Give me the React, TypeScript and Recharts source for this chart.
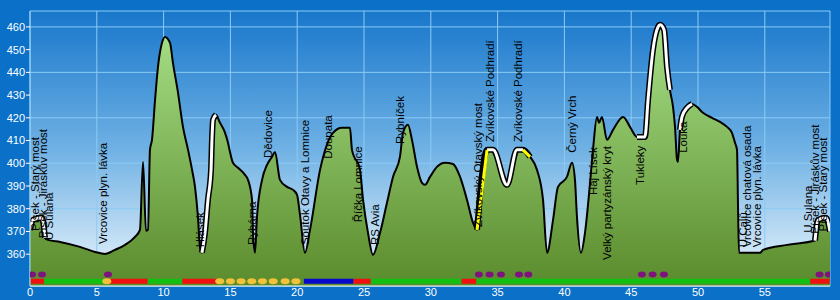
import {
  ComposedChart,
  Area,
  Line,
  Scatter,
  XAxis,
  YAxis,
  CartesianGrid,
} from "recharts";

// profile: distance (km) / elevation (m)
const km = [
  0, 0.22, 0.9, 1.12, 1.35, 2.25, 3.74, 4.87, 5.61, 6.36,
  7.11, 7.86, 8.23, 8.46, 8.68, 8.83, 8.98, 9.13, 9.36, 9.58,
  9.88, 10.1, 10.48, 10.7, 11.08, 11.45, 11.83, 12.13, 12.35, 12.57,
  12.72, 12.87, 13.1, 13.32, 13.55, 13.62, 13.7, 13.92, 14.22, 14.6,
  14.82, 14.97, 15.19, 15.57, 16.09, 16.32, 16.62, 16.69, 16.84, 16.99,
  17.37, 17.74, 18.11, 18.34, 18.71, 19.24, 19.69, 19.99, 20.21, 20.58,
  20.96, 21.71, 22.68, 23.35, 23.95, 24.1, 24.7, 24.93, 25.3, 25.67,
  26.2, 26.72, 27.17, 27.69, 27.92, 28.29, 28.59, 28.97, 29.34, 29.57,
  29.94, 30.46, 31.06, 31.66, 32.19, 32.71, 33.16, 33.46, 34.21, 34.66,
  35.7, 36.45, 36.9, 37.43, 37.95, 38.4, 38.7, 39.15, 39.52, 40.19,
  40.57, 40.79, 40.94, 41.24, 41.54, 41.92, 42.14, 42.44, 42.59, 42.81,
  43.19, 43.64, 44.39, 44.91, 45.43, 46.03, 46.26, 46.63, 47.01, 47.16,
  47.46, 47.68, 47.9, 48.13, 48.28, 48.43, 48.5, 48.65, 48.8, 49.18,
  49.55, 49.93, 50.37, 51.05, 51.65, 52.17, 52.54, 52.77, 52.92, 53.0,
  53.07, 54.64, 54.87, 56.66, 58.76, 58.98, 59.58, 59.88,
];
const elev = [
  370.7, 375.1, 376.0, 367.2, 366.3, 365.4, 363.2, 361.0, 360.1, 361.9,
  364.1, 367.6, 370.7, 400.6, 370.3, 370.7, 405.9, 410.3, 427.9, 442.4,
  453.0, 455.6, 453.0, 444.2, 431.0, 416.0, 405.9, 397.1, 389.6, 376.4,
  363.2, 360.6, 369.4, 383.9, 397.1, 410.3, 419.1, 421.3, 417.8, 413.4,
  409.0, 405.0, 400.2, 398.0, 394.9, 392.7, 383.9, 369.4, 360.6, 376.4,
  392.7, 399.3, 402.8, 405.0, 392.7, 389.6, 388.3, 386.1, 377.3, 360.6,
  370.7, 397.1, 413.4, 415.6, 415.6, 405.9, 397.1, 383.9, 369.4, 359.7,
  369.4, 382.6, 394.0, 402.8, 413.4, 416.9, 410.3, 398.4, 391.4, 390.5,
  394.0, 398.4, 400.2, 399.7, 394.0, 383.9, 373.8, 370.7, 405.9, 405.9,
  390.5, 405.9, 405.9, 402.8, 397.1, 383.9, 360.6, 375.1, 389.6, 394.0,
  400.2, 392.7, 376.4, 360.6, 369.4, 391.4, 405.9, 420.4, 417.8, 420.4,
  410.3, 414.7, 420.4, 416.0, 411.6, 411.6, 427.9, 449.9, 460.0, 460.9,
  458.7, 442.4, 432.3, 424.8, 416.0, 401.5, 400.6, 414.7, 420.4, 424.4,
  426.1, 424.8, 422.2, 420.0, 418.2, 416.0, 413.4, 409.0, 405.9, 379.5,
  360.6, 360.6, 361.9, 364.1, 366.0, 375.1, 376.0, 370.0,
];

// highlighted stretches of the route (km from-to)
const whiteParts = [[0, 1.12], [12.87, 13.92], [34.21, 36.9], [45.43, 47.9], [48.65, 49.55], [58.76, 59.88]];
const yellowParts = [[33.46, 34.21], [36.9, 37.43]];

// surface strip along the bottom
const redStrip = [[0.05, 1.05], [5.9, 8.8], [11.4, 14.0], [24.2, 25.5], [32.3, 33.4], [58.4, 59.85]];
const greenStrip = [[1.05, 5.6], [8.8, 11.4], [25.5, 32.3], [33.4, 58.4]];
const blueStrip = [[20.5, 24.2]];
const yellowDots = [5.75, 14.2, 15.0, 15.8, 16.6, 17.4, 18.2, 19.1, 19.9];
const purpleDots = [0.15, 0.9, 5.84, 33.6, 34.4, 35.25, 36.6, 37.3, 45.8, 46.6, 47.45, 59.1, 59.8];

// waypoints
const placeNames = [
  "Písek - Starý most", "Písek - Jiráskův most", "U Sulana", "Vrcovice plyn. lávka",
  "Hlásek", "Rybárna", "Dědovice", "Soutok Otavy a Lomnice", "Doupata", "Říčka Lomnice",
  "RS Avia", "Rybníček", "Zvíkovský Otavský most", "Zvíkovské Podhradí", "Zvíkovské Podhradí",
  "Černý Vrch", "Háj Lísek", "Velký partyzánský kryt", "Tukleky", "Louka",
  "U Calů", "Vrcovice chatová osada", "Vrcovice plyn. lávka", "U Sulana",
  "Písek - Jiráskův most", "Písek - Starý most",
];
const placeKm = [
  0.37, 1.0, 1.45, 5.5, 12.7, 16.6, 17.8, 20.6, 22.3, 24.55,
  25.8, 27.7, 33.5, 34.45, 36.5, 40.55, 42.15, 43.2, 45.65, 48.9,
  53.4, 53.65, 54.4, 58.2, 58.75, 59.35,
];
const placeElev = [
  370.2, 367, 366.3, 364.5, 363, 364, 402.3, 364, 402, 374,
  364, 408.5, 372, 409.4, 409.4, 404.6, 386, 357.5, 390.5, 404.6,
  363, 363, 363, 369.4, 369, 370,
];

const xTicks = [0, 5, 10, 15, 20, 25, 30, 35, 40, 45, 50, 55];
const yTicks = [360, 370, 380, 390, 400, 410, 420, 430, 440, 450, 460];

const inParts = (k: number, parts: number[][]) => parts.some(([a, b]) => k >= a && k <= b);

const data = km.map((k, i) => ({
  km: k,
  elev: elev[i],
  hi: inParts(k, whiteParts) || inParts(k, yellowParts) ? elev[i] : null,
  white: inParts(k, whiteParts) ? elev[i] : null,
  yellow: inParts(k, yellowParts) ? elev[i] : null,
}));

const STRIP = 348.1;
const DOTS = 351.1;
const stripData = (parts: number[][]) =>
  parts.flatMap(([a, b]) => [
    { km: a, v: STRIP },
    { km: b, v: STRIP },
    { km: b, v: null },
  ]);

const places = placeNames.map((n, i) => ({ km: placeKm[i], y: placeElev[i], name: n }));
const font = "'Liberation Sans', Arial, sans-serif";

const PlaceLabel = (p: any) => (
  <text
    x={p.cx}
    y={p.cy}
    dy="0.35em"
    transform={`rotate(-90 ${p.cx} ${p.cy})`}
    fontSize={11.5}
    fontFamily={font}
    fill="#000"
  >
    {p.payload.name}
  </text>
);

const Dot = (color: string, rx: number, ry: number) => (p: any) => (
  <ellipse cx={p.cx} cy={p.cy} rx={rx} ry={ry} fill={color} />
);

export default function App() {
  return (
    <div style={{ width: 840, height: 300, background: "#0a70c8" }}>
      <style>{`body{margin:0}`}</style>
      <ComposedChart
        width={840}
        height={300}
        data={data}
        margin={{ top: 11, right: 10, bottom: 0, left: 0 }}
      >
        <defs>
          <linearGradient id="sky" x1="0" y1="0" x2="0" y2="1">
            <stop offset="0%" stopColor="#1877cb" />
            <stop offset="50%" stopColor="#6fb1e4" />
            <stop offset="100%" stopColor="#eef7fd" />
          </linearGradient>
          <linearGradient id="grass" x1="0" y1="0" x2="0" y2="1">
            <stop offset="0%" stopColor="#a8e088" />
            <stop offset="100%" stopColor="#5a8b2c" />
          </linearGradient>
        </defs>
        <CartesianGrid stroke="#8ccbf5" fill="url(#sky)" fillOpacity={1} />
        <XAxis
          dataKey="km"
          type="number"
          domain={[0, 59.88]}
          ticks={xTicks}
          height={14}
          tickLine={false}
          tickSize={2}
          tickMargin={0}
          axisLine={{ stroke: "#ffffff" }}
          tick={{ fill: "#ffffff", fontSize: 11, fontFamily: font }}
          allowDataOverflow
        />
        <YAxis
          type="number"
          domain={[346, 467]}
          ticks={yTicks}
          width={30}
          tickSize={4}
          tickMargin={1}
          tickLine={{ stroke: "#ffffff" }}
          axisLine={{ stroke: "#9fd3f7" }}
          tick={{ fill: "#ffffff", fontSize: 11, fontFamily: font }}
          allowDataOverflow
        />
        <Area
          dataKey="elev"
          type="monotone"
          fill="url(#grass)"
          fillOpacity={1}
          stroke="none"
          baseValue="dataMin"
          isAnimationActive={false}
        />
        <Line dataKey="elev" type="monotone" stroke="#000" strokeWidth={2} dot={false} activeDot={false} isAnimationActive={false} />
        <Line dataKey="hi" type="monotone" stroke="#000" strokeWidth={6} dot={false} activeDot={false} isAnimationActive={false} />
        <Line dataKey="white" type="monotone" stroke="#ffffff" strokeWidth={3} dot={false} activeDot={false} isAnimationActive={false} />
        <Line dataKey="yellow" type="monotone" stroke="#ffff00" strokeWidth={3} dot={false} activeDot={false} isAnimationActive={false} />
        <Line data={stripData(greenStrip)} dataKey="v" stroke="#12c012" strokeWidth={5} dot={false} activeDot={false} isAnimationActive={false} />
        <Line data={stripData(redStrip)} dataKey="v" stroke="#f01010" strokeWidth={5} dot={false} activeDot={false} isAnimationActive={false} />
        <Line data={stripData(blueStrip)} dataKey="v" stroke="#0808cc" strokeWidth={5} dot={false} activeDot={false} isAnimationActive={false} />
        <Scatter data={yellowDots.map((k) => ({ km: k, v: STRIP }))} dataKey="v" shape={Dot("#f2c23a", 4.5, 3)} isAnimationActive={false} />
        <Scatter data={purpleDots.map((k) => ({ km: k, v: DOTS }))} dataKey="v" shape={Dot("#7e137e", 4, 3)} isAnimationActive={false} />
        <Scatter data={places} dataKey="y" shape={PlaceLabel} isAnimationActive={false} />
      </ComposedChart>
    </div>
  );
}
